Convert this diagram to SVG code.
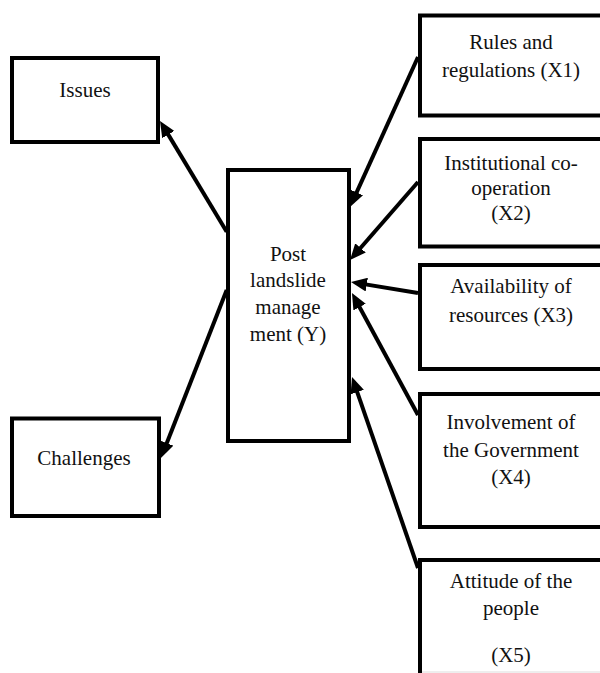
<svg xmlns="http://www.w3.org/2000/svg" width="600" height="673" viewBox="0 0 600 673">
<style>
.box{fill:#fff;stroke:#000;stroke-width:4}
.lbl{font-family:"Liberation Serif","Times New Roman",serif;font-size:21px;fill:#111;text-anchor:middle}
.conn{stroke:#000;stroke-width:4;fill:none;marker-end:url(#ah)}
</style>
<defs>
<marker id="ah" viewBox="0 0 16 14" markerWidth="16" markerHeight="14" refX="9" refY="7" markerUnits="userSpaceOnUse" orient="auto">
<path d="M0,0 L16,7 L0,14 z" fill="#000"/>
</marker>
</defs>
<rect x="0" y="0" width="600" height="673" fill="#fff"/>
<g id="issues">
<rect class="box" x="12" y="58" width="146" height="84"/>
<text class="lbl" x="85" y="97">Issues</text>
</g>
<g id="challenges">
<rect class="box" x="12" y="418.5" width="147" height="97.5"/>
<text class="lbl" x="84" y="465">Challenges</text>
</g>
<g id="y">
<rect class="box" x="228" y="170" width="121" height="271"/>
<text class="lbl" x="288" y="261">Post</text>
<text class="lbl" x="288" y="287">landslide</text>
<text class="lbl" x="288" y="314">manage</text>
<text class="lbl" x="288" y="341">ment (Y)</text>
</g>
<g id="x1">
<rect class="box" x="420" y="15.5" width="200" height="100"/>
<text class="lbl" x="511" y="49">Rules and</text>
<text class="lbl" x="511" y="77">regulations (X1)</text>
</g>
<g id="x2">
<rect class="box" x="420" y="139" width="200" height="107.5"/>
<text class="lbl" x="511" y="169.5">Institutional co-</text>
<text class="lbl" x="511" y="194.5">operation</text>
<text class="lbl" x="511" y="220">(X2)</text>
</g>
<g id="x3">
<rect class="box" x="420" y="265" width="200" height="104"/>
<text class="lbl" x="511" y="293">Availability of</text>
<text class="lbl" x="511" y="321.5">resources (X3)</text>
</g>
<g id="x4">
<rect class="box" x="420" y="394" width="200" height="133"/>
<text class="lbl" x="511" y="429">Involvement of</text>
<text class="lbl" x="511" y="457">the Government</text>
<text class="lbl" x="511" y="484">(X4)</text>
</g>
<g id="x5">
<rect class="box" x="420" y="560" width="200" height="130"/>
<line x1="422" y1="672" x2="600" y2="672" stroke="#ddd" stroke-width="1"/>
<text class="lbl" x="511" y="588">Attitude of the</text>
<text class="lbl" x="511" y="615">people</text>
<text class="lbl" x="511" y="662">(X5)</text>
</g>
<g id="connectors">
<line class="conn" x1="226.7" y1="231.7" x2="163.6" y2="126.9"/>
<line class="conn" x1="226.7" y1="290" x2="163.5" y2="451.5"/>
<line class="conn" x1="418" y1="57" x2="352.9" y2="200.6"/>
<line class="conn" x1="418" y1="182" x2="354.6" y2="254.7"/>
<line class="conn" x1="418" y1="293" x2="357.9" y2="283.1"/>
<line class="conn" x1="418" y1="415" x2="355.3" y2="299.2"/>
<line class="conn" x1="418" y1="568" x2="354.3" y2="383.6"/>
</g>
</svg>
